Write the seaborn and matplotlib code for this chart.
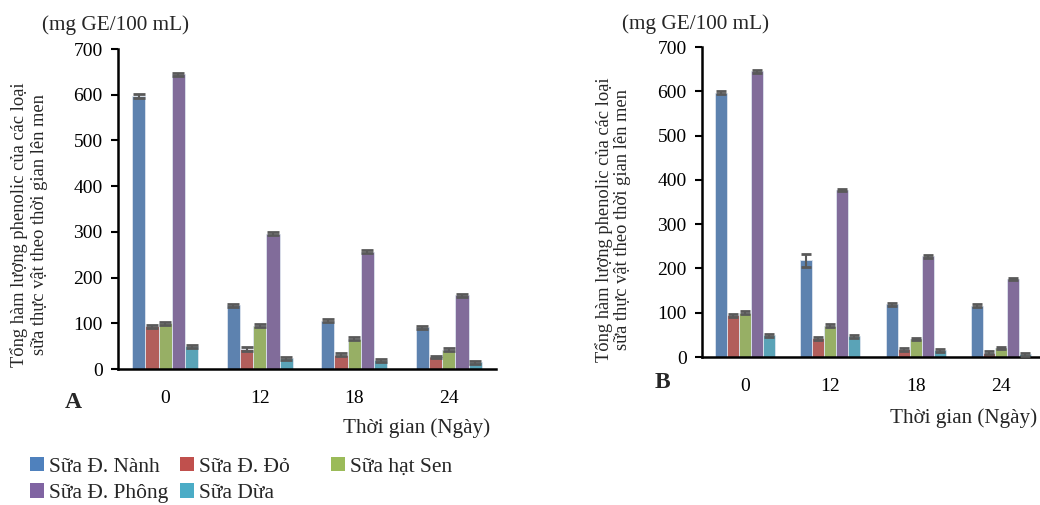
import numpy as np
import pandas as pd
import matplotlib
matplotlib.use("Agg")
import matplotlib.pyplot as plt
import seaborn as sns
from matplotlib.patches import Patch

# ---------------- data ----------------
days = ["0", "12", "18", "24"]
series = ["Sữa Đ. Nành", "Sữa Đ. Đỏ", "Sữa hạt Sen", "Sữa Đ. Phông", "Sữa Dừa"]
colors = ["#4F81BD", "#C0504D", "#9BBB59", "#8064A2", "#4BACC6"]

a_nanh = [597, 139, 106, 91]
a_do = [93, 44, 31, 26]
a_sen = [100, 95, 66, 42]
a_phong = [645, 296, 257, 161]
a_dua = [50, 23, 19, 15]

a_err_nanh = [4, 3, 3, 4]
a_err_do = [4, 4, 3, 3]
a_err_sen = [3, 3, 3, 3]
a_err_phong = [3, 3, 3, 3]
a_err_dua = [3, 3, 3, 3]

b_nanh = [597, 218, 119, 116]
b_do = [94, 42, 17, 10]
b_sen = [100, 71, 41, 20]
b_phong = [645, 377, 227, 176]
b_dua = [49, 47, 15, 6]

b_err_nanh = [4, 14, 3, 3]
b_err_do = [4, 4, 3, 4]
b_err_sen = [3, 3, 3, 3]
b_err_phong = [3, 3, 3, 3]
b_err_dua = [3, 3, 3, 3]

ylabel = "Tổng hàm lượng phenolic của các loại\nsữa thực vật theo thời gian lên men"
unit = "(mg GE/100 mL)"
xlabel = "Thời gian (Ngày)"
yticks = [0, 100, 200, 300, 400, 500, 600, 700]


def build(vals):
    rows = []
    for s, v in zip(series, vals):
        for d, x in zip(days, v):
            rows.append({"day": d, "series": s, "value": x})
    return pd.DataFrame(rows)


df_a = build([a_nanh, a_do, a_sen, a_phong, a_dua])
df_b = build([b_nanh, b_do, b_sen, b_phong, b_dua])
err_a = [a_err_nanh, a_err_do, a_err_sen, a_err_phong, a_err_dua]
err_b = [b_err_nanh, b_err_do, b_err_sen, b_err_phong, b_err_dua]

sns.set_theme(style="white")
FAM = ["Liberation Serif", "DejaVu Serif"]
plt.rcParams["font.family"] = FAM

W, H = 1040, 505
fig = plt.figure(figsize=(W / 100, H / 100), dpi=100)


def fx(px):
    return px / W


def fy(py):
    return 1 - py / H


def panel(rect, df, errs, capsize):
    ax = fig.add_axes(rect)
    sns.barplot(data=df, x="day", y="value", hue="series", order=days,
                hue_order=series, palette=colors, width=0.7, gap=0,
                errorbar=None, edgecolor="#DDE4EE", linewidth=0.6,
                legend=False, ax=ax)
    for cont, e in zip(ax.containers, errs):
        for patch, ev in zip(cont.patches, e):
            xc = patch.get_x() + patch.get_width() / 2
            ax.errorbar(xc, patch.get_height(), yerr=ev, fmt="none",
                        ecolor="#595959", elinewidth=1.5, capsize=capsize,
                        capthick=2.0, zorder=5)
    ax.set_xlim(-0.5, 3.5)
    ax.set_ylim(0, 700)
    ax.set_yticks(yticks)
    ax.set_xlabel("")
    ax.set_ylabel("")
    for s in ["top", "right"]:
        ax.spines[s].set_visible(False)
    for s in ["left", "bottom"]:
        ax.spines[s].set_color("black")
        ax.spines[s].set_linewidth(1.8)
    ax.tick_params(axis="y", which="major", left=True, length=5, width=1.5,
                   direction="out", pad=6, labelsize=14, colors="black")
    ax.tick_params(axis="x", bottom=False, pad=9, labelsize=14,
                   colors="black")
    for lab in ax.get_xticklabels() + ax.get_yticklabels():
        lab.set_family(FAM)
    ax.grid(False)
    return ax


axA = panel([fx(118), fy(369), fx(496 - 118), (369 - 49) / H], df_a, err_a, 4.0)
axB = panel([fx(702), fy(357), fx(1044 - 702), (357 - 47) / H], df_b, err_b, 3.7)

# unit labels
fig.text(fx(116), fy(25), unit, ha="center", va="center", fontsize=15.3, family=FAM)
fig.text(fx(696), fy(24), unit, ha="center", va="center", fontsize=15.3, family=FAM)

# y labels
fig.text(fx(29), fy(225), ylabel, ha="center", va="center", rotation=90,
         fontsize=13.3, linespacing=1.2, family=FAM)
fig.text(fx(613), fy(220), ylabel, ha="center", va="center", rotation=90,
         fontsize=13.3, linespacing=1.1, family=FAM)

# panel letters
fig.text(fx(73), fy(402), "A", ha="center", va="center", fontsize=17,
         fontweight="bold", family=FAM)
fig.text(fx(662), fy(383), "B", ha="center", va="center", fontsize=17,
         fontweight="bold", family=FAM)

# x labels
fig.text(fx(490), fy(428), xlabel, ha="right", va="center", fontsize=15.2, family=FAM)
fig.text(fx(1037), fy(418), xlabel, ha="right", va="center", fontsize=15.2, family=FAM)

# legend laid out as three single-column legends
cols_layout = [[0, 3], [1, 4], [2]]
col_x = [30, 180, 331]
for idxs, x0 in zip(cols_layout, col_x):
    handles = [Patch(facecolor=colors[i], edgecolor="none") for i in idxs]
    labels = [series[i] for i in idxs]
    fig.legend(handles, labels, loc="upper left",
               bbox_to_anchor=(fx(x0), fy(457)), frameon=False,
               prop={"family": FAM, "size": 15.5},
               handlelength=0.65, handleheight=0.65, handletextpad=0.25,
               labelspacing=0.3, borderaxespad=0, borderpad=0)

fig.savefig("out.png", dpi=100)
